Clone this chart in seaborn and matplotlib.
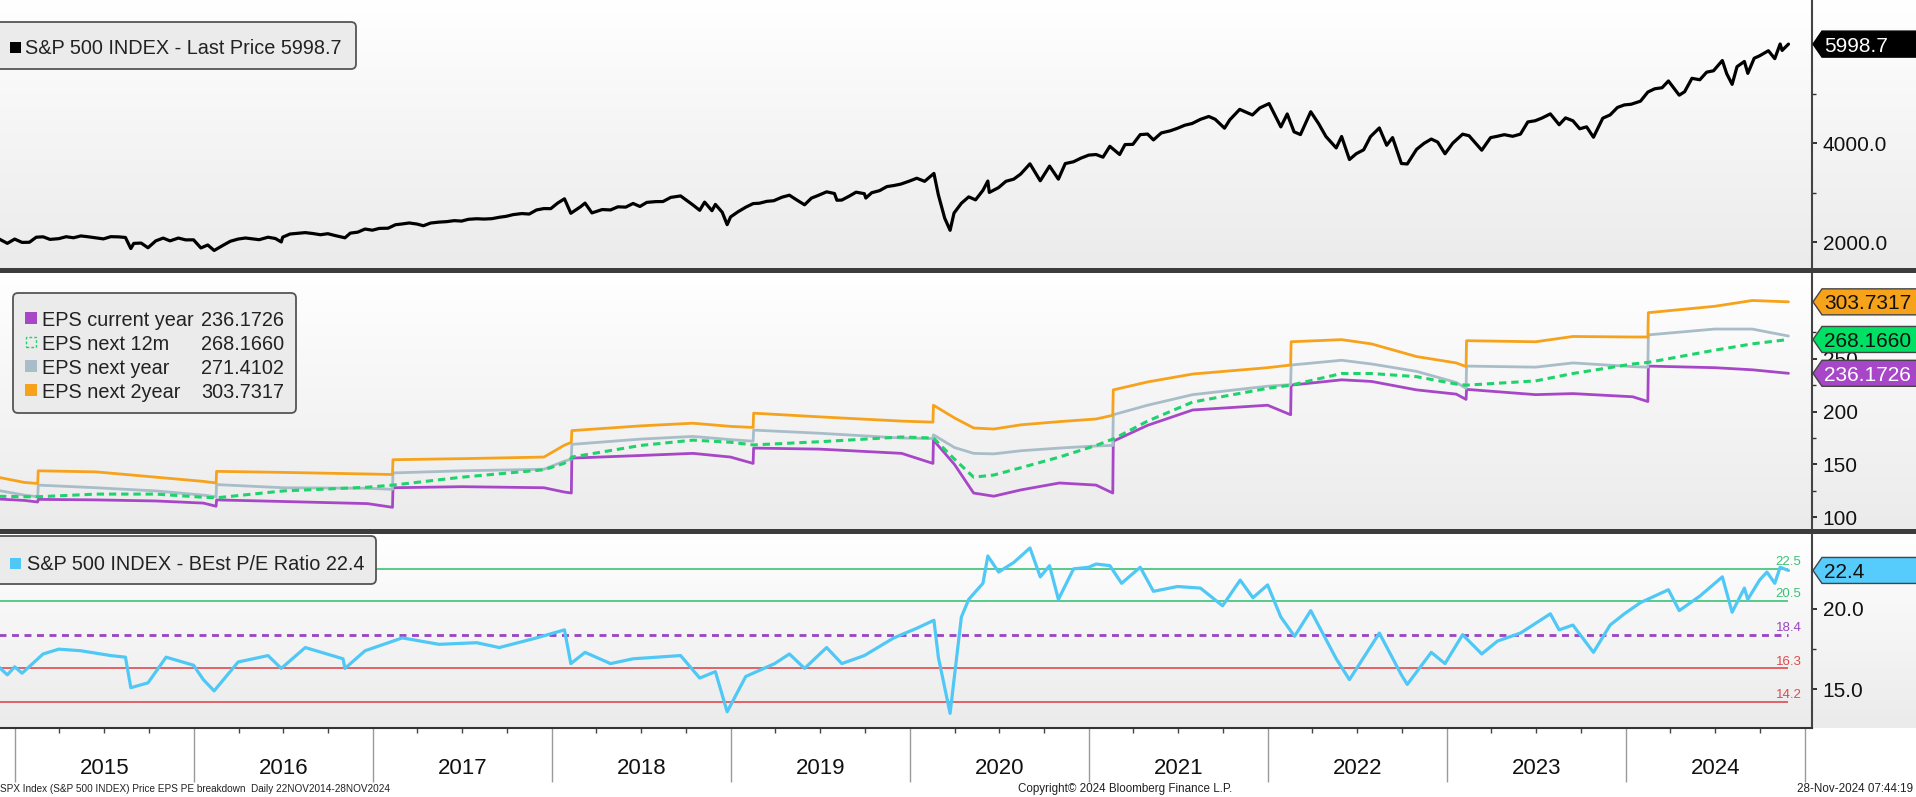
import numpy as np
import pandas as pd
import matplotlib
matplotlib.use("Agg")
import matplotlib.pyplot as plt
import matplotlib.dates as mdates
import matplotlib.ticker as mticker
from matplotlib.transforms import IdentityTransform, blended_transform_factory
from matplotlib.patches import Polygon, FancyBboxPatch, Rectangle
from matplotlib.colors import LinearSegmentedColormap
import seaborn as sns

# ---------------- data ----------------
price_dates = [
    "2014-11-21", "2014-11-28", "2014-12-16", "2014-12-31",
    "2015-01-15", "2015-01-30", "2015-02-13", "2015-02-27", "2015-03-13", "2015-03-31", "2015-04-15", "2015-04-30",
    "2015-05-15", "2015-05-29", "2015-06-15", "2015-06-30", "2015-07-15", "2015-07-31", "2015-08-14", "2015-08-25",
    "2015-08-31", "2015-09-15", "2015-09-29", "2015-10-15", "2015-10-30", "2015-11-13", "2015-11-30", "2015-12-15", "2015-12-31",
    "2016-01-15", "2016-01-29", "2016-02-11", "2016-02-29", "2016-03-15", "2016-03-31", "2016-04-15", "2016-04-29",
    "2016-05-13", "2016-05-31", "2016-06-15", "2016-06-27", "2016-06-30", "2016-07-15", "2016-07-29", "2016-08-15",
    "2016-08-31", "2016-09-15", "2016-09-30", "2016-10-14", "2016-11-04", "2016-11-15", "2016-11-30", "2016-12-15", "2016-12-30",
    "2017-01-13", "2017-01-31", "2017-02-15", "2017-02-28", "2017-03-15", "2017-03-31", "2017-04-13", "2017-04-28",
    "2017-05-15", "2017-05-31", "2017-06-15", "2017-06-30", "2017-07-14", "2017-07-31", "2017-08-15", "2017-08-31",
    "2017-09-15", "2017-09-29", "2017-10-13", "2017-10-31", "2017-11-15", "2017-11-30", "2017-12-15", "2017-12-29",
    "2018-01-12", "2018-01-26", "2018-02-08", "2018-02-28", "2018-03-09", "2018-03-23", "2018-04-13", "2018-04-30",
    "2018-05-15", "2018-05-31", "2018-06-15", "2018-06-29", "2018-07-13", "2018-07-31", "2018-08-15", "2018-08-31",
    "2018-09-20", "2018-10-15", "2018-10-29", "2018-11-08", "2018-11-23", "2018-11-30", "2018-12-14", "2018-12-24", "2018-12-31",
    "2019-01-15", "2019-01-31", "2019-02-15", "2019-02-28", "2019-03-15", "2019-03-29", "2019-04-15", "2019-04-30",
    "2019-05-15", "2019-05-31", "2019-06-14", "2019-06-28", "2019-07-15", "2019-07-31", "2019-08-05", "2019-08-15",
    "2019-08-30", "2019-09-13", "2019-09-30", "2019-10-03", "2019-10-15", "2019-10-31", "2019-11-15", "2019-11-29",
    "2019-12-13", "2019-12-31",
    "2020-01-15", "2020-01-31", "2020-02-19", "2020-02-28", "2020-03-12", "2020-03-23", "2020-03-31", "2020-04-15",
    "2020-04-30", "2020-05-14", "2020-05-29", "2020-06-08", "2020-06-11", "2020-06-30", "2020-07-15", "2020-07-31",
    "2020-08-14", "2020-09-02", "2020-09-23", "2020-10-12", "2020-10-30", "2020-11-13", "2020-11-30", "2020-12-15", "2020-12-31",
    "2021-01-15", "2021-01-29", "2021-02-12", "2021-03-04", "2021-03-15", "2021-03-31", "2021-04-15", "2021-04-30",
    "2021-05-12", "2021-05-28", "2021-06-15", "2021-06-30", "2021-07-15", "2021-07-30", "2021-08-16", "2021-09-02",
    "2021-09-15", "2021-10-04", "2021-10-15", "2021-11-04", "2021-11-30", "2021-12-15", "2022-01-03",
    "2022-01-27", "2022-02-09", "2022-02-23", "2022-03-08", "2022-03-29", "2022-04-14", "2022-04-29", "2022-05-20",
    "2022-05-31", "2022-06-16", "2022-06-30", "2022-07-15", "2022-07-29", "2022-08-16", "2022-08-31", "2022-09-12",
    "2022-09-30", "2022-10-12", "2022-10-31", "2022-11-15", "2022-11-30", "2022-12-13", "2022-12-28",
    "2023-01-13", "2023-02-02", "2023-02-15", "2023-03-13", "2023-03-31", "2023-04-14", "2023-04-28", "2023-05-15",
    "2023-05-31", "2023-06-15", "2023-06-30", "2023-07-14", "2023-07-31", "2023-08-18", "2023-08-31", "2023-09-15",
    "2023-09-29", "2023-10-13", "2023-10-27", "2023-11-15", "2023-11-30", "2023-12-15", "2023-12-29",
    "2024-01-12", "2024-01-31", "2024-02-15", "2024-02-29", "2024-03-15", "2024-03-28", "2024-04-19", "2024-04-30",
    "2024-05-15", "2024-05-31", "2024-06-14", "2024-06-28", "2024-07-16", "2024-07-25", "2024-08-05", "2024-08-15",
    "2024-08-30", "2024-09-06", "2024-09-19", "2024-09-30", "2024-10-18", "2024-10-31", "2024-11-11", "2024-11-15", "2024-11-28",
]
price_vals = [
    2064, 2068, 1973, 2059,
    1992, 1995, 2097, 2105, 2053, 2068, 2107, 2086,
    2123, 2107, 2084, 2063, 2108, 2104, 2092, 1868,
    1972, 1979, 1884, 2024, 2079, 2023, 2080, 2043, 2044,
    1880, 1940, 1829, 1932, 2015, 2060, 2081, 2065,
    2047, 2097, 2071, 2001, 2099, 2162, 2174, 2190,
    2171, 2147, 2168, 2133, 2085, 2180, 2199, 2262, 2239,
    2275, 2279, 2349, 2364, 2385, 2363, 2329, 2384,
    2402, 2412, 2432, 2423, 2459, 2470, 2464, 2472,
    2500, 2519, 2553, 2575, 2565, 2648, 2676, 2674,
    2786, 2873, 2581, 2714, 2786, 2588, 2656, 2648,
    2711, 2705, 2779, 2718, 2801, 2816, 2818, 2902,
    2931, 2750, 2641, 2806, 2633, 2760, 2600, 2351, 2507,
    2610, 2704, 2776, 2784, 2822, 2834, 2906, 2946,
    2850, 2752, 2887, 2942, 3014, 2980, 2844, 2848,
    2926, 3007, 2977, 2888, 2996, 3038, 3120, 3141,
    3169, 3231,
    3289, 3226, 3386, 2954, 2481, 2237, 2585, 2783,
    2912, 2852, 3044, 3232, 3002, 3100, 3227, 3271,
    3373, 3580, 3237, 3534, 3270, 3585, 3622, 3695, 3756,
    3768, 3714, 3934, 3768, 3969, 3973, 4170, 4181,
    4063, 4204, 4246, 4298, 4360, 4395, 4479, 4537,
    4480, 4300, 4471, 4680, 4567, 4709, 4797,
    4326, 4587, 4226, 4171, 4632, 4393, 4132, 3901,
    4132, 3667, 3785, 3863, 4130, 4305, 3955, 4110,
    3586, 3577, 3872, 3992, 4080, 4020, 3783,
    3999, 4179, 4148, 3855, 4109, 4137, 4169, 4136,
    4180, 4426, 4450, 4505, 4589, 4370, 4508, 4450,
    4288, 4327, 4117, 4502, 4568, 4719, 4770,
    4784, 4846, 5030, 5096, 5117, 5254, 4967, 5036,
    5308, 5278, 5432, 5460, 5667, 5400, 5186, 5543,
    5648, 5408, 5713, 5762, 5865, 5705, 6001, 5871, 5998.7,
]

eps_dates = [
    "2014-11-21", "2015-01-20", "2015-02-16", "2015-02-17", "2015-06-15", "2015-10-15",
    "2016-01-20", "2016-02-15", "2016-02-16", "2016-07-01", "2016-12-20",
    "2017-02-09", "2017-02-10", "2017-07-01", "2017-12-15",
    "2018-01-25", "2018-02-09", "2018-02-10", "2018-07-01", "2018-10-15", "2018-12-31",
    "2019-02-15", "2019-02-16", "2019-07-01", "2019-12-15",
    "2020-02-17", "2020-02-18", "2020-04-01", "2020-05-10", "2020-06-20", "2020-08-15", "2020-11-01",
    "2021-01-15", "2021-02-18", "2021-02-19", "2021-04-30", "2021-07-31", "2021-12-31",
    "2022-02-16", "2022-02-17", "2022-05-31", "2022-07-31", "2022-10-31",
    "2023-01-20", "2023-02-09", "2023-02-10", "2023-07-01", "2023-09-15",
    "2024-01-15", "2024-02-15", "2024-02-16", "2024-06-30", "2024-09-15", "2024-11-28",
]
eps_current_year = [
    117.5, 116, 114.5, 117, 116.5, 115.5,
    113.5, 110.5, 116.5, 115, 113,
    109.5, 128, 129, 128,
    124, 123, 156, 158.5, 160.5, 157,
    151, 165.5, 164.5, 160.5,
    151, 173, 150, 123, 120, 126, 132.5,
    130.5, 123, 172, 187, 201.5, 206,
    197, 225, 230, 228.5, 220.5,
    216.5, 211.5, 221, 216, 217,
    214, 209.5, 243, 241.5, 239.5, 236.1726,
]
eps_next_12m = [
    120, 119.5, 119.5, 119.5, 122, 122,
    119, 118.5, 118.5, 125, 128.5,
    130.5, 130.5, 138, 145,
    151, 156, 157, 168, 173, 171,
    168.5, 168.5, 171.5, 176,
    175, 175, 155, 138, 140, 147, 157,
    168, 174, 174, 191, 209, 222,
    225, 225, 236, 236, 233,
    226, 225, 225, 229, 236,
    245, 246.5, 246.5, 258, 264, 268.1660,
]
eps_next_year = [
    126, 121, 119.5, 130.5, 128, 125,
    121, 119.5, 131, 128, 127.5,
    126.5, 142, 144, 145.5,
    153, 155, 169, 174, 176.5, 173.5,
    172, 182.5, 179.5, 175,
    174.5, 178, 166, 160.5, 160, 163, 165.5,
    167.5, 168, 197, 206, 216, 224,
    225.5, 244, 248.5, 245, 238,
    227.5, 222, 243, 242, 246,
    242.5, 242, 272.5, 278, 278, 271.4102,
]
eps_next_2year = [
    138.5, 133, 132, 144, 143, 138,
    134, 132.5, 143.5, 142.5, 141,
    140.5, 154.5, 155.5, 157,
    168, 171, 182, 186.5, 189, 186,
    185, 198.5, 195, 191,
    190, 206, 194, 184.5, 183.5, 187.5, 190.5,
    193, 196.5, 220.5, 228, 235.5, 241.5,
    244, 266, 268, 264, 252,
    246, 242.5, 267, 266, 271,
    270.5, 270.5, 293.5, 299.5, 305, 303.7317,
]

pe_dates = [
    "2014-11-21", "2014-12-16", "2014-12-31", "2015-01-15", "2015-02-27", "2015-03-31", "2015-05-15", "2015-07-15",
    "2015-08-14", "2015-08-25", "2015-09-29", "2015-11-05", "2015-12-31", "2016-01-20", "2016-02-11", "2016-03-31",
    "2016-05-31", "2016-06-27", "2016-08-15", "2016-10-31", "2016-11-04", "2016-12-15", "2017-03-01", "2017-05-15",
    "2017-07-31", "2017-09-15", "2017-11-30", "2018-01-26", "2018-02-08", "2018-03-09", "2018-04-30", "2018-06-15",
    "2018-09-20", "2018-10-29", "2018-11-30", "2018-12-24", "2019-01-31", "2019-03-31", "2019-04-30", "2019-05-31",
    "2019-07-15", "2019-08-15", "2019-09-30", "2019-11-29", "2020-01-15", "2020-02-19", "2020-02-28", "2020-03-23",
    "2020-04-15", "2020-04-30", "2020-05-29", "2020-06-08", "2020-06-30", "2020-07-31", "2020-09-02", "2020-09-23",
    "2020-10-12", "2020-10-30", "2020-11-30", "2020-12-31", "2021-01-15", "2021-02-12", "2021-03-08", "2021-04-15",
    "2021-05-12", "2021-06-30", "2021-08-16", "2021-09-30", "2021-11-05", "2021-12-01", "2021-12-31", "2022-01-27",
    "2022-02-24", "2022-03-29", "2022-05-20", "2022-06-16", "2022-08-16", "2022-09-30", "2022-10-12", "2022-11-30",
    "2022-12-28", "2023-02-02", "2023-03-13", "2023-04-14", "2023-05-31", "2023-07-31", "2023-08-18", "2023-09-15",
    "2023-10-27", "2023-11-30", "2023-12-29", "2024-01-31", "2024-03-28", "2024-04-19", "2024-05-31", "2024-07-16",
    "2024-08-05", "2024-08-30", "2024-09-06", "2024-09-30", "2024-10-15", "2024-10-31", "2024-11-11", "2024-11-28",
]
pe_vals = [
    16.6, 15.9, 16.4, 16.0, 17.2, 17.5, 17.4, 17.1,
    17.0, 15.1, 15.4, 17.0, 16.5, 15.6, 14.9, 16.7,
    17.1, 16.3, 17.6, 16.9, 16.3, 17.4, 18.2, 17.8,
    17.9, 17.6, 18.2, 18.7, 16.6, 17.3, 16.6, 16.9,
    17.1, 15.7, 16.1, 13.6, 15.8, 16.6, 17.2, 16.3,
    17.6, 16.6, 17.1, 18.2, 18.8, 19.3, 17.0, 13.5,
    19.5, 20.6, 21.6, 23.3, 22.3, 22.9, 23.8, 22.0,
    22.7, 20.6, 22.5, 22.6, 22.8, 22.7, 21.6, 22.6,
    21.1, 21.4, 21.3, 20.2, 21.8, 20.7, 21.5, 19.5,
    18.3, 19.9, 16.9, 15.6, 18.5, 15.9, 15.3, 17.3,
    16.6, 18.4, 17.2, 18.0, 18.5, 19.7, 18.7, 19.0,
    17.3, 19.0, 19.7, 20.4, 21.2, 19.9, 20.8, 22.0,
    19.8, 21.3, 20.6, 21.8, 22.3, 21.6, 22.6, 22.4,
]

pe_levels = [22.5, 20.5, 18.4, 16.3, 14.2]
pe_level_colors = ["#3cc276", "#3cc276", "#9a44c2", "#e04a4f", "#e04a4f"]

eps_names = ["EPS current year", "EPS next 12m", "EPS next year", "EPS next 2year"]
eps_colors = ["#a747c8", "#1fd36c", "#a9bdc8", "#f7a21b"]
tag_colors = ["#a747c8", "#00e064", "#a9bdc8", "#f7a21b"]

year_labels = [2015, 2016, 2017, 2018, 2019, 2020, 2021, 2022, 2023, 2024]

price_ticks = [2000, 4000]
eps_ticks = [100, 150, 200, 250]
pe_ticks = [15, 20]

# ---------------- layout ----------------
sns.set_style("white")
plt.rcParams["font.family"] = ["Liberation Sans", "DejaVu Sans"]

W, H = 1916, 797
PLOT_R = 1812
fig = plt.figure(figsize=(W / 100, H / 100), dpi=100)
fig.patch.set_facecolor("white")


def rect(x0, y0, x1, y1):
    return [x0 / W, 1 - y1 / H, (x1 - x0) / W, (y1 - y0) / H]


def text_px(x, y, s, **kw):
    return fig.text(x / W, 1 - y / H, s, **kw)


grad = np.linspace(0, 1, 256).reshape(-1, 1)
gcmap = LinearSegmentedColormap.from_list("g", ["#ffffff", "#ebebeb"])
panel_px = [(0, 268), (273, 529), (534, 728)]
axes = []
for (y0, y1) in panel_px:
    bg = fig.add_axes(rect(0, y0, W, y1), zorder=0)
    bg.imshow(grad, cmap=gcmap, aspect="auto", extent=[0, 1, 0, 1], interpolation="bilinear")
    bg.set_axis_off()
    ax = fig.add_axes(rect(0, y0, PLOT_R, y1), zorder=2)
    ax.patch.set_alpha(0)
    axes.append(ax)
ax1, ax2, ax3 = axes

price_dt = pd.to_datetime(price_dates)
eps_dt = pd.to_datetime(eps_dates)
pe_dt = pd.to_datetime(pe_dates)

sns.lineplot(x=price_dt, y=price_vals, ax=ax1, color="black", lw=2.3, errorbar=None)
eps_series = [eps_current_year, eps_next_12m, eps_next_year, eps_next_2year]
for vals, c, name in zip(eps_series, eps_colors, eps_names):
    if name == "EPS next 12m":
        sns.lineplot(x=eps_dt, y=vals, ax=ax2, color=c, lw=2.2, linestyle=(0, (2.4, 1.6)), errorbar=None, zorder=4)
    else:
        sns.lineplot(x=eps_dt, y=vals, ax=ax2, color=c, lw=2.0, errorbar=None, zorder=3)

for lvl, c in zip(pe_levels, pe_level_colors):
    if lvl == 18.4:
        ax3.hlines(lvl, pe_dt[0], pe_dt[-1], colors=c, lw=2.0, linestyles=(0, (2.5, 2.0)), zorder=2)
    else:
        ax3.hlines(lvl, pe_dt[0], pe_dt[-1], colors=c, lw=1.2, zorder=2)
    ax3.annotate(f"{lvl}", xy=(pe_dt[-1], lvl), xytext=(0, 0.5), textcoords="offset points",
                 ha="center", va="bottom", fontsize=9.5, color=c, zorder=2)
sns.lineplot(x=pe_dt, y=pe_vals, ax=ax3, color="#4fc8f6", lw=2.3, errorbar=None, zorder=3)

xlim = (pd.Timestamp("2014-12-01"), pd.Timestamp("2025-01-15"))
for ax in axes:
    ax.set_xlim(xlim)
    ax.set_xlabel("")
    ax.set_ylabel("")
    ax.grid(False)
    for s in ["top", "left", "bottom"]:
        ax.spines[s].set_visible(False)
    ax.spines["right"].set_visible(True)
    ax.spines["right"].set_color("#444444")
    ax.spines["right"].set_linewidth(1.5)
    ax.yaxis.tick_right()
    ax.tick_params(axis="y", which="major", direction="out", length=3.6, width=1.3, pad=4,
                   labelsize=15, colors="#222222", labelcolor="#111111")
    ax.tick_params(axis="y", which="minor", direction="out", length=3.0, width=1.0, colors="#333333")
    ax.tick_params(axis="x", which="both", bottom=False, labelbottom=False)

ax1.set_ylim(1475, 6890)
ax1.set_yticks(price_ticks)
ax1.yaxis.set_minor_locator(mticker.FixedLocator([3000, 5000]))
ax1.yaxis.set_major_formatter(mticker.FormatStrFormatter("%.1f"))

ax2.set_ylim(89, 331)
ax2.set_yticks(eps_ticks)
ax2.yaxis.set_minor_locator(mticker.FixedLocator([125, 175, 225, 275]))
ax2.yaxis.set_major_formatter(mticker.FormatStrFormatter("%d"))

ax3.set_ylim(12.59, 24.67)
ax3.set_yticks(pe_ticks)
ax3.yaxis.set_minor_locator(mticker.FixedLocator([17.5, 22.5]))
ax3.yaxis.set_major_formatter(mticker.FormatStrFormatter("%.1f"))

ax3.spines["bottom"].set_visible(True)
ax3.spines["bottom"].set_color("#333333")
ax3.spines["bottom"].set_linewidth(1.5)
ax3.xaxis.set_major_locator(mdates.YearLocator())
ax3.xaxis.set_minor_locator(mdates.MonthLocator(bymonth=[4, 7, 10]))
ax3.tick_params(axis="x", which="major", bottom=True, direction="out", length=39, width=1.0,
                color="#9a9a9a", labelbottom=False)
ax3.tick_params(axis="x", which="minor", bottom=True, direction="out", length=3.5, width=1.0,
                color="#444444")

ytr = blended_transform_factory(ax3.transData, fig.transFigure)
for yr in year_labels:
    ax3.text(pd.Timestamp(f"{yr}-07-02"), 1 - 768 / H, str(yr), transform=ytr, ha="center",
             va="center", fontsize=16, color="#111111")

# separators between panels
for ytop in (268, 529):
    fig.add_artist(Rectangle((0, H - ytop - 5), W, 5, transform=IdentityTransform(),
                             fc="#3c3c3c", ec="none", zorder=15))


# ---------------- right-hand value tags ----------------
def add_tag(ax, value, label, fc, tc, ec):
    Y = ax.transData.transform((ax.get_xlim()[0], value))[1]
    pts = [(1813, Y), (1822, Y + 13), (W + 3, Y + 13), (W + 3, Y - 13), (1822, Y - 13)]
    fig.add_artist(Polygon(pts, closed=True, transform=IdentityTransform(), fc=fc, ec=ec, lw=1.0, zorder=20))
    fig.text(1824 / W, Y / H, label, color=tc, fontsize=15, ha="left", va="center_baseline", zorder=21)


add_tag(ax1, price_vals[-1], f"{price_vals[-1]:.1f}", "#000000", "white", "#000000")
add_tag(ax2, eps_next_2year[-1], f"{eps_next_2year[-1]:.4f}", tag_colors[3], "#111111", "#444444")
add_tag(ax2, eps_next_12m[-1], f"{eps_next_12m[-1]:.4f}", tag_colors[1], "#111111", "#444444")
add_tag(ax2, eps_current_year[-1], f"{eps_current_year[-1]:.4f}", tag_colors[0], "white", "#444444")
add_tag(ax3, pe_vals[-1], f"{pe_vals[-1]:.1f}", "#55ccfb", "#111111", "#444444")


# ---------------- legends ----------------
def box_px(x0, y0, x1, y1):
    fig.add_artist(FancyBboxPatch((x0, H - y1), x1 - x0, y1 - y0, boxstyle="round,pad=0,rounding_size=5",
                                  transform=IdentityTransform(), fc="#ebebeb", ec="#555555", lw=1.3, zorder=16))


def square_px(x0, yc, size, fc, ec=None, fill=True, ls="-"):
    fig.add_artist(Rectangle((x0, H - yc - size / 2), size, size, transform=IdentityTransform(),
                             fc=fc if fill else "none", ec=ec if ec else "none", fill=fill, lw=1.0,
                             ls=ls, zorder=17))


box_px(-6, 22, 356, 69)
square_px(10, 47, 11, "#000000")
text_px(25, 47, f"S&P 500 INDEX - Last Price {price_vals[-1]:.1f}", fontsize=14.3, color="#222222",
        va="center_baseline", ha="left", zorder=18)

box_px(13, 293, 296, 413)
row_y = [318, 342, 366, 390]
for name, vals, c, yy in zip(eps_names, eps_series, eps_colors, row_y):
    if name == "EPS next 12m":
        square_px(26, yy, 10, "none", ec=c, fill=False, ls=(0, (2, 1.5)))
    else:
        square_px(25, yy, 12, c)
    text_px(42, yy, name, fontsize=14.3, color="#222222", va="center_baseline", ha="left", zorder=18)
    text_px(201, yy, f"{vals[-1]:.4f}", fontsize=14.3, color="#222222", va="center_baseline", ha="left", zorder=18)

box_px(-6, 536, 376, 584)
square_px(10, 563, 11, "#4fc8f6")
text_px(27, 563, f"S&P 500 INDEX - BEst P/E Ratio {pe_vals[-1]:.1f}", fontsize=14.3, color="#222222",
        va="center_baseline", ha="left", zorder=18)

# ---------------- footer ----------------
text_px(0, 789, "SPX Index (S&P 500 INDEX) Price EPS PE breakdown  Daily 22NOV2014-28NOV2024",
        fontsize=7.2, color="#222222", va="center", ha="left")
text_px(1018, 789, "Copyright\u00a9 2024 Bloomberg Finance L.P.", fontsize=8.4,
        color="#222222", va="center", ha="left")
text_px(1913, 789, "28-Nov-2024 07:44:19", fontsize=8.4, color="#222222",
        va="center", ha="right")

fig.savefig("out.png", dpi=100)
